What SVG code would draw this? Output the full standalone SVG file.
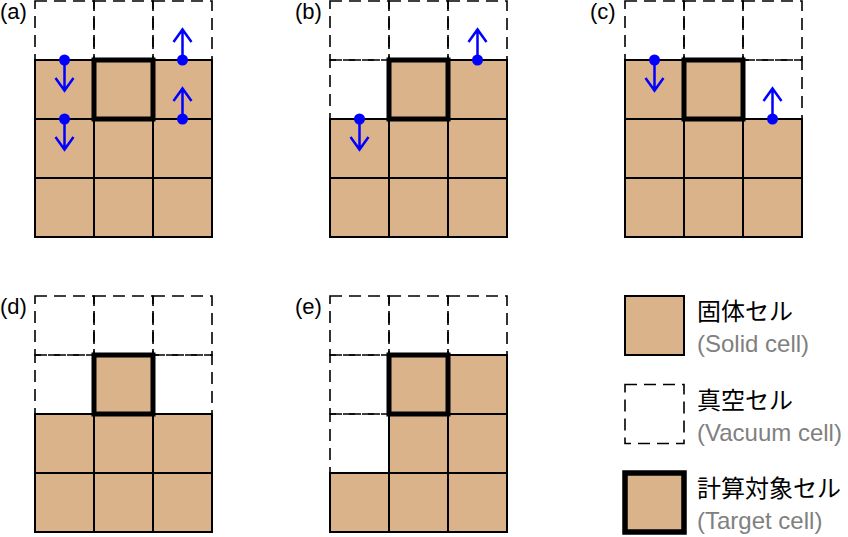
<svg xmlns="http://www.w3.org/2000/svg" xmlns:xlink="http://www.w3.org/1999/xlink" width="848" height="537" viewBox="0 0 848 537">
<style>
.v{fill:none;stroke:#000;stroke-width:1.6;stroke-dasharray:12,7}
.s{fill:#DBB38B;stroke:#000;stroke-width:2}
.t{fill:#DBB38B;stroke:#000;stroke-width:5}
.dot{fill:#0000FF}
.arr{fill:none;stroke:#0000FF;stroke-width:2.5}
.lbl{font-family:"Liberation Sans","Noto Sans CJK JP",sans-serif;font-size:22px;fill:#000}
.jp{font-family:"Liberation Sans","Noto Sans CJK JP",sans-serif;font-size:24px;fill:#000}
.en{font-family:"Liberation Sans","Noto Sans CJK JP",sans-serif;font-size:24px;fill:#808080}
</style>
<defs>
<g id="down"><circle class="dot" cx="0" cy="0" r="5.5"/><path class="arr" d="M0,0V30.5M-9,18L0,30.5L9,18"/></g>
<g id="up"><circle class="dot" cx="0" cy="0" r="5.5"/><path class="arr" d="M0,0V-30.5M-9,-18L0,-30.5L9,-18"/></g>
</defs>
<rect width="848" height="537" fill="#fff"/>

<g id="panel-a">
<text class="lbl" x="0" y="19">(a)</text>
<rect class="v" x="35" y="1" width="59" height="59"/><rect class="v" x="94" y="1" width="59" height="59"/><rect class="v" x="153" y="1" width="59" height="59"/>
<rect class="s" x="35" y="60" width="59" height="59"/><rect class="s" x="153" y="60" width="59" height="59"/>
<rect class="s" x="35" y="119" width="59" height="59"/><rect class="s" x="94" y="119" width="59" height="59"/><rect class="s" x="153" y="119" width="59" height="59"/>
<rect class="s" x="35" y="178" width="59" height="59"/><rect class="s" x="94" y="178" width="59" height="59"/><rect class="s" x="153" y="178" width="59" height="59"/>
<rect class="t" x="94" y="60" width="59" height="59"/>
</g>

<g id="panel-b">
<text class="lbl" x="295" y="19">(b)</text>
<rect class="v" x="330" y="1" width="59" height="59"/><rect class="v" x="389" y="1" width="59" height="59"/><rect class="v" x="448" y="1" width="59" height="59"/>
<rect class="v" x="330" y="60" width="59" height="59"/><rect class="s" x="448" y="60" width="59" height="59"/>
<rect class="s" x="330" y="119" width="59" height="59"/><rect class="s" x="389" y="119" width="59" height="59"/><rect class="s" x="448" y="119" width="59" height="59"/>
<rect class="s" x="330" y="178" width="59" height="59"/><rect class="s" x="389" y="178" width="59" height="59"/><rect class="s" x="448" y="178" width="59" height="59"/>
<rect class="t" x="389" y="60" width="59" height="59"/>
</g>

<g id="panel-c">
<text class="lbl" x="590" y="19">(c)</text>
<rect class="v" x="625" y="1" width="59" height="59"/><rect class="v" x="684" y="1" width="59" height="59"/><rect class="v" x="743" y="1" width="59" height="59"/>
<rect class="v" x="743" y="60" width="59" height="59"/><rect class="s" x="625" y="60" width="59" height="59"/>
<rect class="s" x="625" y="119" width="59" height="59"/><rect class="s" x="684" y="119" width="59" height="59"/><rect class="s" x="743" y="119" width="59" height="59"/>
<rect class="s" x="625" y="178" width="59" height="59"/><rect class="s" x="684" y="178" width="59" height="59"/><rect class="s" x="743" y="178" width="59" height="59"/>
<rect class="t" x="684" y="60" width="59" height="59"/>
</g>

<g id="panel-d">
<text class="lbl" x="0" y="314">(d)</text>
<rect class="v" x="35" y="296" width="59" height="59"/><rect class="v" x="94" y="296" width="59" height="59"/><rect class="v" x="153" y="296" width="59" height="59"/>
<rect class="v" x="35" y="355" width="59" height="59"/><rect class="v" x="153" y="355" width="59" height="59"/>
<rect class="s" x="35" y="414" width="59" height="59"/><rect class="s" x="94" y="414" width="59" height="59"/><rect class="s" x="153" y="414" width="59" height="59"/>
<rect class="s" x="35" y="473" width="59" height="59"/><rect class="s" x="94" y="473" width="59" height="59"/><rect class="s" x="153" y="473" width="59" height="59"/>
<rect class="t" x="94" y="355" width="59" height="59"/>
</g>

<g id="panel-e">
<text class="lbl" x="295" y="314">(e)</text>
<rect class="v" x="330" y="296" width="59" height="59"/><rect class="v" x="389" y="296" width="59" height="59"/><rect class="v" x="448" y="296" width="59" height="59"/>
<rect class="v" x="330" y="355" width="59" height="59"/><rect class="v" x="330" y="414" width="59" height="59"/>
<rect class="s" x="448" y="355" width="59" height="59"/>
<rect class="s" x="389" y="414" width="59" height="59"/><rect class="s" x="448" y="414" width="59" height="59"/>
<rect class="s" x="330" y="473" width="59" height="59"/><rect class="s" x="389" y="473" width="59" height="59"/><rect class="s" x="448" y="473" width="59" height="59"/>
<rect class="t" x="389" y="355" width="59" height="59"/>
</g>

<g id="connectors">
<use xlink:href="#down" href="#down" x="64.5" y="60"/>
<use xlink:href="#down" href="#down" x="64.5" y="119"/>
<use xlink:href="#up" href="#up" x="182.5" y="60"/>
<use xlink:href="#up" href="#up" x="182.5" y="119"/>
<use xlink:href="#down" href="#down" x="359.5" y="119"/>
<use xlink:href="#up" href="#up" x="477.5" y="60"/>
<use xlink:href="#down" href="#down" x="654.5" y="60"/>
<use xlink:href="#up" href="#up" x="772.5" y="119"/>
</g>

<g id="legend-solid">
<rect class="s" x="625" y="296" width="59" height="59"/>
<text class="jp" x="697" y="320">固体セル</text>
<text class="en" x="697" y="352">(Solid cell)</text>
</g>
<g id="legend-vacuum">
<rect class="v" x="625" y="384.5" width="59" height="59"/>
<text class="jp" x="697" y="408.5">真空セル</text>
<text class="en" x="697" y="440.5">(Vacuum cell)</text>
</g>
<g id="legend-target">
<rect class="s" x="625" y="473" width="59" height="59" style="stroke-width:5.5"/>
<text class="jp" x="697" y="497">計算対象セル</text>
<text class="en" x="697" y="529">(Target cell)</text>
</g>
</svg>
